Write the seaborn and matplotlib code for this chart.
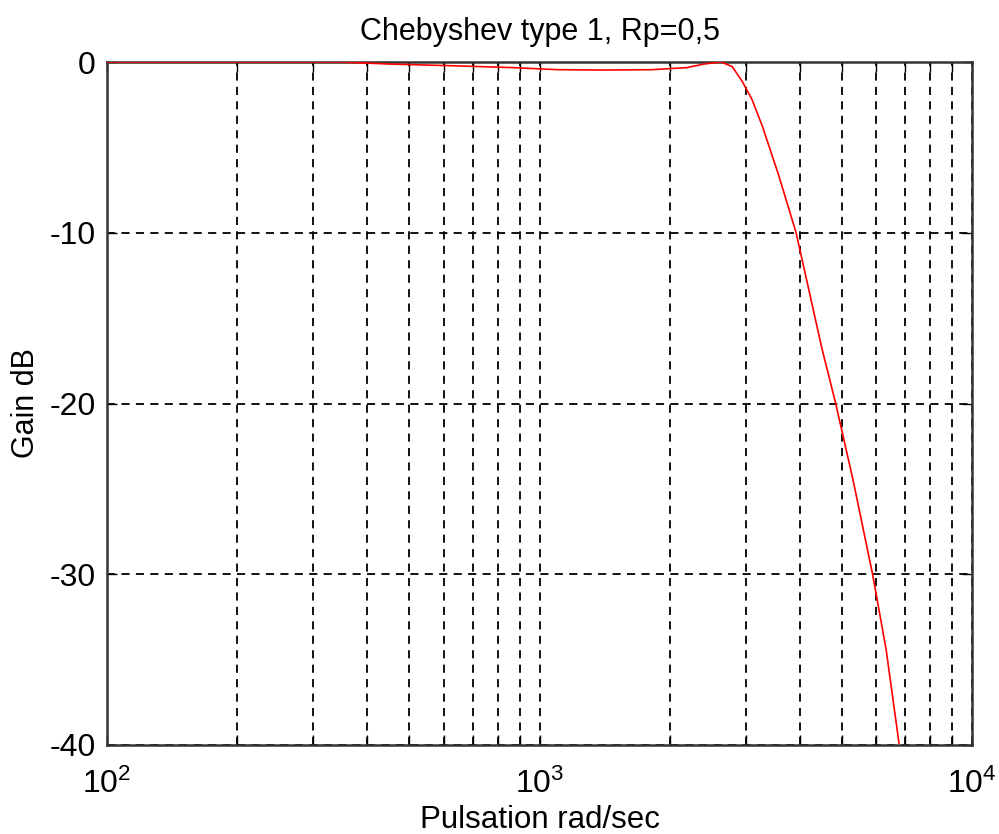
import matplotlib
matplotlib.use("Agg")
import matplotlib.pyplot as plt
import matplotlib.ticker as mticker
import seaborn as sns
import pandas as pd

freq = [100, 200, 345, 450, 630, 870, 1100, 1400, 1820, 2190, 2400, 2630,
        2790, 2945, 3100, 3280, 3580, 3920, 4500, 4840, 5300, 5890, 6330, 6780]
gain = [0, 0, 0, -0.12, -0.22, -0.33, -0.45, -0.47, -0.45, -0.33, -0.12, 0,
        -0.27, -1.15, -2.2, -3.8, -6.7, -10.0, -16.8, -20.0, -24.4, -30.0, -34.4, -39.9]
yticks = [0, -10, -20, -30, -40]

sns.set_style("white")
plt.rcParams['font.family'] = ['Liberation Sans', 'DejaVu Sans']
plt.rcParams['axes.unicode_minus'] = False
for k in ['text.color', 'axes.labelcolor', 'xtick.color', 'ytick.color']:
    plt.rcParams[k] = 'black'

fig = plt.figure(figsize=(9.99, 8.34), dpi=100)
ax = fig.add_axes([107/999, 1-745/834, (972-107)/999, (745-62)/834])

df = pd.DataFrame({"freq": freq, "gain": gain})
sns.lineplot(data=df, x="freq", y="gain", color="red", linewidth=1.2, ax=ax, zorder=3)

ax.set_xscale("log")
ax.set_xlim(100, 10000)
ax.set_ylim(-40, 0)
ax.set_yticks(yticks)
ax.xaxis.set_major_locator(mticker.LogLocator(base=10, numticks=10))
ax.xaxis.set_minor_locator(mticker.LogLocator(base=10, subs=range(2, 10), numticks=100))
ax.xaxis.set_minor_formatter(mticker.NullFormatter())

grid_kw = dict(color="black", linewidth=1.3, linestyle=(0, (4.5, 3.5)))
ax.grid(True, which="both", axis="x", **grid_kw)
ax.grid(True, which="major", axis="y", **grid_kw)

ax.tick_params(which="both", direction="in", top=True, right=True, bottom=True, left=True,
               color="black", width=1.0)
ax.tick_params(which="major", length=7, labelsize=23)
ax.tick_params(which="minor", length=7)
ax.tick_params(axis="x", which="major", pad=17)
ax.tick_params(axis="y", which="major", pad=8)

for s in ax.spines.values():
    s.set_color("#333333")
    s.set_linewidth(1.8)
    s.set_visible(True)

ax.set_title("Chebyshev type 1, Rp=0,5", fontsize=22, pad=16, color="black")
ax.set_xlabel("Pulsation rad/sec", fontsize=22.5, labelpad=4)
ax.set_ylabel("Gain dB", fontsize=22, labelpad=6)

fig.savefig("out.png", dpi=100)
